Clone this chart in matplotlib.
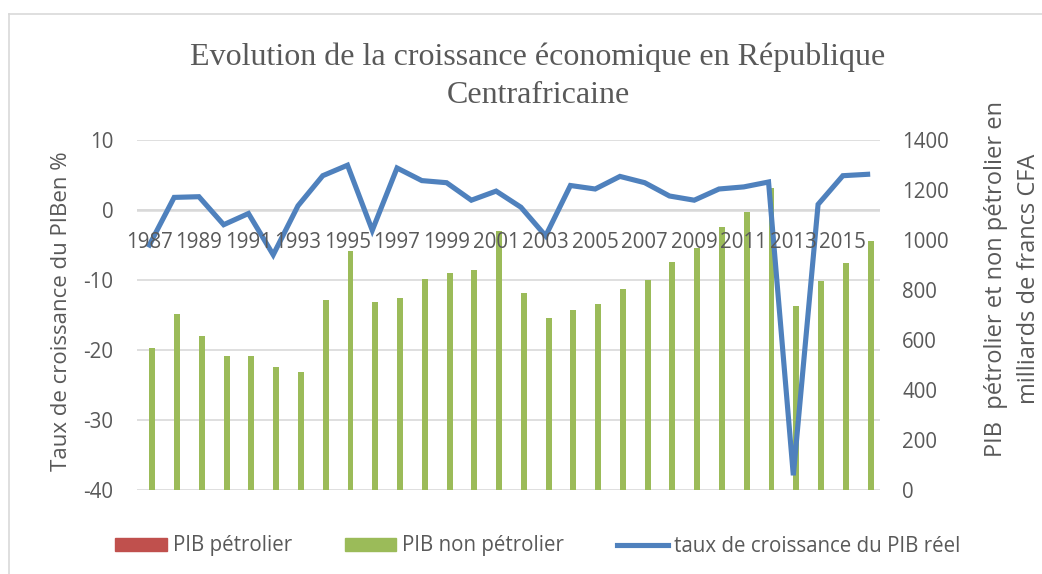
import matplotlib
matplotlib.use("Agg")
import matplotlib.pyplot as plt
from matplotlib.lines import Line2D
from matplotlib.patches import Patch
import numpy as np

plt.rcParams["axes.unicode_minus"] = False

years = list(range(1987, 2017))
pib_petrolier = [0, 0, 0, 0, 0, 0, 0, 0, 0, 0, 0, 0, 0, 0, 0,
                 0, 0, 0, 0, 0, 0, 0, 0, 0, 0, 0, 0, 0, 0, 0]
pib_non_petrolier = [569, 704, 616, 536, 537, 491, 472, 760, 957, 751,
                     767, 843, 867, 881, 1035, 789, 689, 719, 745, 803,
                     839, 912, 968, 1053, 1112, 1207, 736, 837, 909, 997]
croissance = [-5.0, 1.8, 1.9, -2.1, -0.5, -6.4, 0.6, 4.9, 6.4, -2.9,
              6.0, 4.2, 3.9, 1.4, 2.7, 0.4, -3.7, 3.5, 3.0, 4.8,
              3.9, 2.0, 1.4, 3.0, 3.3, 4.0, -37.9, 0.8, 4.9, 5.1]
left_ticks = [10, 0, -10, -20, -30, -40]
right_ticks = [0, 200, 400, 600, 800, 1000, 1200, 1400]

title = "Evolution de la croissance économique en République\nCentrafricaine"
ylabel_left = "Taux de croissance du PIBen %"
ylabel_right = "PIB  pétrolier et non pétrolier en\nmilliards de francs CFA"
legend_labels = ["PIB pétrolier", "PIB non pétrolier", "taux de croissance du PIB réel"]

GREEN = "#9BBB59"
RED = "#C0504D"
BLUE = "#4F81BD"
GRAY = "#595959"
GRID = "#D9D9D9"
FONT = "Open Sans"
FS = 14.8

W, H = 1042, 574
fig = plt.figure(figsize=(W / 100, H / 100), dpi=100)
fig.patch.set_facecolor("white")

L, R, T, B = 137, 880, 140, 490
rect = [L / W, 1 - B / H, (R - L) / W, (B - T) / H]
ax = fig.add_axes(rect)
ax2 = ax.twinx()
ax3 = ax.twinx()

x = np.arange(len(years))
ax.set_xlim(-0.5, len(years) - 0.5)
ax.set_ylim(-40, 10)
ax3.set_ylim(-40, 10)
ax2.set_ylim(0, 1400)

# gridlines
ax.set_yticks(left_ticks)
ax.yaxis.grid(True, color=GRID, linewidth=1.2)
ax.set_axisbelow(True)
ax.axhline(0, color=GRID, linewidth=1.8, zorder=0.5)
ax.set_xticks([])
for a in (ax, ax2, ax3):
    for s in a.spines.values():
        s.set_visible(False)

ax.tick_params(axis="y", length=0, pad=17, labelcolor=GRAY, labelsize=FS)
for t in ax.get_yticklabels():
    t.set_fontfamily(FONT)

# bars
bw = 0.24
ax2.bar(x - bw / 2, pib_petrolier, width=bw, color=RED)
ax2.bar(x + bw / 2, pib_non_petrolier, width=bw, color=GREEN)
ax2.set_yticks(right_ticks)
ax2.tick_params(axis="y", length=0, pad=16, labelcolor=GRAY, labelsize=FS)
for t in ax2.get_yticklabels():
    t.set_fontfamily(FONT)

# line
ax3.plot(x, croissance, color=BLUE, linewidth=3.7, solid_joinstyle="miter")
ax3.set_yticks([])

# year labels under the zero line, every other year
for i in range(0, len(years), 2):
    ax3.annotate(str(years[i]), xy=(x[i], 0), xycoords="data",
                 xytext=(0, -38), textcoords="offset pixels",
                 ha="center", va="baseline", fontsize=FS, color=GRAY,
                 fontfamily=FONT)

# title (anchored on the baseline of its last line)
fig.text(538 / W, 1 - 103 / H, title, ha="center", va="baseline",
         fontsize=23, color=GRAY, fontfamily="Liberation Serif",
         linespacing=1.42, multialignment="center")

# axis labels
fig.text(67 / W, 1 - 311 / H, ylabel_left, rotation=90, ha="center",
         va="baseline", rotation_mode="anchor", fontsize=16, color=GRAY,
         fontfamily=FONT)
fig.text(1026 / W, 1 - 279 / H, ylabel_right, rotation=90, ha="center",
         va="baseline", rotation_mode="anchor", fontsize=17, color=GRAY,
         fontfamily=FONT, linespacing=1.5, multialignment="center")

# legend
handles = [Patch(facecolor=RED, edgecolor=RED),
           Patch(facecolor=GREEN, edgecolor=GREEN),
           Line2D([], [], color=BLUE, linewidth=3.7)]
leg = fig.legend(handles, legend_labels, loc="center", ncol=3,
                 bbox_to_anchor=(538 / W, 1 - 546 / H), frameon=False,
                 prop={"family": FONT, "size": FS}, handlelength=2.5,
                 handleheight=0.63, handletextpad=0.3, columnspacing=2.57,
                 labelcolor=GRAY, borderpad=0, borderaxespad=0)

# chart border (top & left visible)
fig.add_artist(Line2D([9 / W, 9 / W], [0, 1 - 14 / H], color=GRID,
                      linewidth=1.2, transform=fig.transFigure))
fig.add_artist(Line2D([9 / W, 1], [1 - 14 / H, 1 - 14 / H], color=GRID,
                      linewidth=1.2, transform=fig.transFigure))

fig.savefig("out.png", dpi=100, facecolor="white")
